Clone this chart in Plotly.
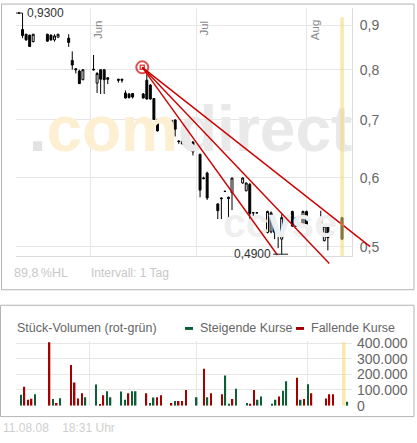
import numpy as np
import pandas as pd
import plotly.graph_objects as go

W, H = 417, 443

# daily candles (EUR)
dates = ['2008-05-12', '2008-05-13', '2008-05-14', '2008-05-15', '2008-05-16',
         '2008-05-20', '2008-05-21', '2008-05-22', '2008-05-23',
         '2008-05-26', '2008-05-27', '2008-05-28', '2008-05-29', '2008-05-30',
         '2008-06-02', '2008-06-03', '2008-06-04', '2008-06-05', '2008-06-06',
         '2008-06-09', '2008-06-10', '2008-06-11', '2008-06-12', '2008-06-13',
         '2008-06-16', '2008-06-17', '2008-06-18', '2008-06-19', '2008-06-20',
         '2008-06-23', '2008-06-24', '2008-06-25', '2008-06-26', '2008-06-27',
         '2008-06-30', '2008-07-02', '2008-07-03', '2008-07-04',
         '2008-07-07', '2008-07-08', '2008-07-09', '2008-07-10', '2008-07-11',
         '2008-07-14', '2008-07-15', '2008-07-16', '2008-07-17', '2008-07-18',
         '2008-07-21', '2008-07-22', '2008-07-23', '2008-07-24', '2008-07-25',
         '2008-07-28', '2008-07-29', '2008-07-30', '2008-07-31', '2008-08-01',
         '2008-08-05', '2008-08-06', '2008-08-07', '2008-08-11']
open_ = [0.930, 0.890, 0.879, 0.877, 0.862, 0.879, 0.877, 0.866, 0.872,
         0.870, 0.820, 0.802, 0.797, 0.779, 0.801, 0.772, 0.800, 0.800, 0.783,
         0.780, 0.780, 0.752, 0.750, 0.751, 0.750, 0.778, 0.768, 0.741, 0.701,
         0.679, 0.671, 0.700, 0.662, 0.662, 0.660, 0.639, 0.600, 0.608,
         0.560, 0.569, 0.579, 0.570, 0.577, 0.592, 0.580, 0.590, 0.547, 0.547,
         0.519, 0.520, 0.532, 0.518, 0.510, 0.549, 0.540, 0.530, 0.529, 0.549,
         0.540, 0.508, 0.528, 0.540]
high = [0.930, 0.930, 0.880, 0.878, 0.880, 0.880, 0.878, 0.879, 0.880,
        0.879, 0.840, 0.803, 0.800, 0.801, 0.832, 0.795, 0.801, 0.801, 0.784,
        0.781, 0.781, 0.757, 0.752, 0.752, 0.752, 0.790, 0.770, 0.742, 0.702,
        0.697, 0.700, 0.701, 0.663, 0.663, 0.662, 0.640, 0.602, 0.610,
        0.561, 0.570, 0.580, 0.571, 0.600, 0.601, 0.593, 0.592, 0.548, 0.548,
        0.550, 0.549, 0.533, 0.519, 0.545, 0.550, 0.541, 0.531, 0.550, 0.550,
        0.550, 0.529, 0.529, 0.541]
low = [0.930, 0.870, 0.864, 0.850, 0.860, 0.862, 0.864, 0.862, 0.871,
       0.850, 0.800, 0.792, 0.770, 0.778, 0.798, 0.752, 0.750, 0.750, 0.770,
       0.773, 0.773, 0.741, 0.741, 0.741, 0.741, 0.739, 0.739, 0.700, 0.679,
       0.651, 0.651, 0.670, 0.657, 0.656, 0.637, 0.570, 0.598, 0.566,
       0.538, 0.538, 0.578, 0.530, 0.551, 0.591, 0.579, 0.537, 0.535, 0.546,
       0.518, 0.518, 0.510, 0.498, 0.490, 0.527, 0.527, 0.529, 0.528, 0.528,
       0.527, 0.507, 0.495, 0.509]
close = [0.930, 0.876, 0.866, 0.851, 0.879, 0.863, 0.866, 0.875, 0.879,
         0.860, 0.810, 0.800, 0.771, 0.800, 0.800, 0.792, 0.780, 0.779, 0.780,
         0.778, 0.778, 0.742, 0.743, 0.744, 0.742, 0.740, 0.740, 0.701, 0.680,
         0.671, 0.699, 0.683, 0.661, 0.657, 0.643, 0.581, 0.599, 0.569,
         0.550, 0.568, 0.579, 0.568, 0.600, 0.600, 0.592, 0.546, 0.547, 0.547,
         0.549, 0.547, 0.519, 0.516, 0.540, 0.528, 0.528, 0.530, 0.549, 0.529,
         0.528, 0.528, 0.512, 0.510]

# traded pieces per day and colour flag (1 = steigend / green, 0 = fallend / red)
volume = [69000, 121000, 37000, 44000, 73000, 405000, 42000, 17000, 48000,
          260000, 148000, 46000, 79000, 54000, 135000, 10000, 67000, 92000, 54000,
          90000, 37000, 79000, 92000, 92000, 79000, 17000, 52000, 54000, 67000,
          17000, 29000, 29000, 29000, 100000, 54000, 235000, 54000, 79000,
          73000, 192000, 12000, 42000, 108000, 17000, 12000, 100000, 37000, 58000,
          12000, 37000, 58000, 96000, 156000, 179000, 37000, 42000, 137000, 79000,
          46000, 73000, 73000, 25000]
rising = [1, 0, 0, 0, 1, 0, 1, 0, 1, 0, 0, 0, 0, 1, 1, 0, 0, 1, 1,
          1, 1, 0, 1, 1, 0, 1, 1, 0, 0, 0, 1, 0, 0, 0, 1, 0, 1, 0,
          0, 1, 1, 0, 1, 1, 0, 0, 1, 1, 1, 1, 0, 1, 1, 0, 1, 0, 1, 0,
          0, 0, 0, 1]

price_ticks = [0.5, 0.6, 0.7, 0.8, 0.9]
price_labels = ['0,5', '0,6', '0,7', '0,8', '0,9']
vol_ticks = [0, 100000, 200000, 300000, 400000]
vol_labels = ['0', '100.000', '200.000', '300.000', '400.000']
month_ticks = ['2008-06-01', '2008-07-01', '2008-08-01']
month_labels = ['Jun', 'Jul', 'Aug']
today = '2008-08-11'

# trend channel drawn by the user: anchor point and three end points
trend_start = ('2008-06-15 17:30', 0.805)
trend_ends = [('2008-07-23 19:00', 0.489),
              ('2008-08-07 10:00', 0.478),
              ('2008-08-18 22:00', 0.500)]

GREEN = '#0b5e36'
RED = '#a50000'
GRID = '#e6e6e6'
FONT = 'Arial, Liberation Sans, sans-serif'

# layout in pixels -> paper
def px(x): return x / W
def py(y): return 1 - y / H

top_dom = [py(258), py(2)]
vol_dom = [py(412.7), py(346)]
x_dom = [px(16), px(352)]

jun1 = pd.Timestamp('2008-06-01')
top_xr = [jun1 + pd.Timedelta(days=-20.845), jun1 + pd.Timedelta(days=73.8)]
vol_xr = [jun1 + pd.Timedelta(days=-20.35), jun1 + pd.Timedelta(days=73.3)]
top_yr = [np.log10(0.9) - 238 / 895, np.log10(0.9) + 18 / 895]
vol_yr = [0, 412400]


def top_paper(d, p):
    t = (pd.Timestamp(d) - top_xr[0]) / (top_xr[1] - top_xr[0])
    u = (np.log10(p) - top_yr[0]) / (top_yr[1] - top_yr[0])
    return (x_dom[0] + t * (x_dom[1] - x_dom[0]),
            top_dom[0] + u * (top_dom[1] - top_dom[0]))


fig = go.Figure()

# watermark behind the candles
mark_x = pd.Timestamp('2008-06-25 19:00')
fig.add_trace(go.Scatter(
    x=[mark_x], y=[0.673], mode='text', text=['<b><span style="color:#e2e2e2">.</span>com</b>'],
    textposition='middle left', textfont=dict(family=FONT, size=64, color='#fdefd2'),
    hoverinfo='skip', showlegend=False, xaxis='x', yaxis='y'))
fig.add_trace(go.Scatter(
    x=[mark_x], y=[0.673], mode='text', text=['<b>direct</b>'],
    textposition='middle right', textfont=dict(family=FONT, size=64, color='#e9e9e9'),
    hoverinfo='skip', showlegend=False, xaxis='x', yaxis='y'))
fig.add_trace(go.Scatter(
    x=[pd.Timestamp('2008-07-24 12:00')], y=[0.527], mode='text', text=['<b>ccvse</b>'],
    textposition='middle center', textfont=dict(family=FONT, size=41, color='#efefef'),
    hoverinfo='skip', showlegend=False, xaxis='x', yaxis='y'))

fig.add_trace(go.Candlestick(
    x=pd.to_datetime(dates), open=open_, high=high, low=low, close=close,
    increasing=dict(line=dict(color='black', width=1), fillcolor='white'),
    decreasing=dict(line=dict(color='black', width=1), fillcolor='black'),
    whiskerwidth=0, hoverinfo='skip', showlegend=False, xaxis='x', yaxis='y'))

# volume bars sit at the end of each trading day
vol_x = pd.to_datetime(dates) + pd.Timedelta(days=1)
fig.add_trace(go.Bar(
    x=vol_x, y=volume, marker_color=[GREEN if r else RED for r in rising],
    marker_line_width=0, width=0.42 * 86400000, hoverinfo='skip',
    showlegend=False, xaxis='x2', yaxis='y2'))

# circled anchor of the trend lines
fig.add_trace(go.Scatter(
    x=[pd.Timestamp(trend_start[0])] * 2, y=[trend_start[1]] * 2, mode='markers',
    marker=dict(symbol=['circle-open', 'square-open'], size=[12, 4], color='#d40000',
                line=dict(width=[2, 1.5], color='#d40000')),
    cliponaxis=False, hoverinfo='skip', showlegend=False, xaxis='x', yaxis='y'))

shapes = []
x0, y0 = top_paper(*trend_start)
for end in trend_ends:
    x1, y1 = top_paper(*end)
    shapes.append(dict(type='line', xref='paper', yref='paper', x0=x0, y0=y0, x1=x1, y1=y1,
                       line=dict(color='#cc0000', width=1.4), layer='above'))

# today marker
shapes.append(dict(type='line', xref='x', yref='y domain', x0=today, x1=today, y0=0, y1=0.962,
                   line=dict(color='rgba(245,214,110,0.55)', width=3.5), layer='above'))
shapes.append(dict(type='line', xref='x2', yref='y2 domain', x0=today, x1=today, y0=0, y1=0.98,
                   line=dict(color='rgba(245,214,110,0.55)', width=3.5), layer='above'))

# high / low markers
i_hi = int(np.argmax(high))
i_lo = int(np.argmin(low))
hi_d, hi_p = pd.Timestamp(dates[i_hi + 1]), max(high)
lo_d, lo_p = pd.Timestamp(dates[i_lo]), min(low)
shapes.append(dict(type='line', xref='x', yref='y', x0=top_xr[0], x1=hi_d, y0=hi_p, y1=hi_p,
                   line=dict(color='#222', width=1)))
shapes.append(dict(type='line', xref='x', yref='y', x0=lo_d - pd.Timedelta(days=2.4),
                   x1=lo_d + pd.Timedelta(days=1.8), y0=lo_p, y1=lo_p,
                   line=dict(color='#222', width=1)))

# panel frames
shapes.append(dict(type='rect', xref='paper', yref='paper', x0=px(1.5), x1=px(414),
                   y0=py(293), y1=py(-2), line=dict(color='#b4b4b4', width=1)))
shapes.append(dict(type='rect', xref='paper', yref='paper', x0=px(0.5), x1=px(414),
                   y0=py(424), y1=py(309), line=dict(color='#b4b4b4', width=1)))
# legend dashes
shapes.append(dict(type='rect', xref='paper', yref='paper', x0=px(185), x1=px(193),
                   y0=py(334.5), y1=py(331.5), fillcolor=GREEN, line=dict(width=0)))
shapes.append(dict(type='rect', xref='paper', yref='paper', x0=px(296), x1=px(304),
                   y0=py(334.5), y1=py(331.5), fillcolor=RED, line=dict(width=0)))

annotations = [
    dict(x=hi_d, y=np.log10(hi_p), xref='x', yref='y', text='0,9300', showarrow=False,
         xanchor='left', yanchor='middle', xshift=2, font=dict(size=12, color='#333')),
    dict(x=lo_d, y=np.log10(lo_p), xref='x', yref='y', text='0,4900', showarrow=False,
         xanchor='right', yanchor='middle', xshift=-9, font=dict(size=12, color='#333')),
    dict(x=px(12), y=py(276), xref='paper', yref='paper', text='89,8\u2009%HL', showarrow=False,
         xanchor='left', yanchor='middle', font=dict(size=12.5, color='#c8c8c8')),
    dict(x=px(89), y=py(276), xref='paper', yref='paper', text='Intervall: 1 Tag', showarrow=False,
         xanchor='left', yanchor='middle', font=dict(size=12, color='#c8c8c8')),
    dict(x=px(15), y=py(333), xref='paper', yref='paper', text='Stück-Volumen (rot-grün)',
         showarrow=False, xanchor='left', yanchor='middle', font=dict(size=12.5, color='#666')),
    dict(x=px(198), y=py(333), xref='paper', yref='paper', text='Steigende Kurse',
         showarrow=False, xanchor='left', yanchor='middle', font=dict(size=12.5, color='#666')),
    dict(x=px(309), y=py(333), xref='paper', yref='paper', text='Fallende Kurse',
         showarrow=False, xanchor='left', yanchor='middle', font=dict(size=12.5, color='#666')),
    dict(x=px(1), y=py(436), xref='paper', yref='paper',
         text='11.08.08\u00a0\u00a0\u00a0\u00a018:31 Uhr',
         showarrow=False, xanchor='left', yanchor='middle', font=dict(size=12, color='#cfcfcf')),
]
for m, lab in zip(month_ticks, month_labels):
    annotations.append(dict(x=m, y=py(13), xref='x', yref='paper', text=lab, showarrow=False,
                            textangle=-90, xanchor='left', yanchor='top', xshift=0,
                            font=dict(size=11.5, color='#888')))

fig.update_layout(
    width=W, height=H, margin=dict(l=0, r=0, t=0, b=0),
    paper_bgcolor='white', plot_bgcolor='white',
    font=dict(family=FONT, color='#666'),
    boxgap=0.22,
    xaxis=dict(domain=x_dom, range=top_xr, type='date', tickvals=month_ticks,
               showticklabels=False, showgrid=True, gridcolor=GRID, zeroline=False,
               showline=True, linecolor='#dcdcdc', rangeslider=dict(visible=False),
               fixedrange=True),
    yaxis=dict(domain=top_dom, type='log', range=top_yr, side='right', anchor='x',
               tickvals=price_ticks, ticktext=price_labels, showgrid=True, gridcolor=GRID,
               showline=True, linecolor='#dcdcdc', ticks='', ticklabelstandoff=4,
               tickfont=dict(size=14, color='#666')),
    xaxis2=dict(domain=x_dom, range=vol_xr, type='date', tickvals=month_ticks,
                showticklabels=False, showgrid=True, gridcolor=GRID, zeroline=False,
                anchor='y2'),
    yaxis2=dict(domain=vol_dom, range=vol_yr, side='right', anchor='x2',
                tickvals=vol_ticks, ticktext=vol_labels, showgrid=True, gridcolor=GRID,
                zeroline=False, ticks='', ticklabelstandoff=4,
                tickfont=dict(size=14, color='#666')),
    shapes=shapes, annotations=annotations,
)

# the page body has an 8px default margin; drop it so the chart sits at the window corner
fig.write_html("out.html", config={'displayModeBar': False},
               post_script="document.body.style.margin = '0';")
